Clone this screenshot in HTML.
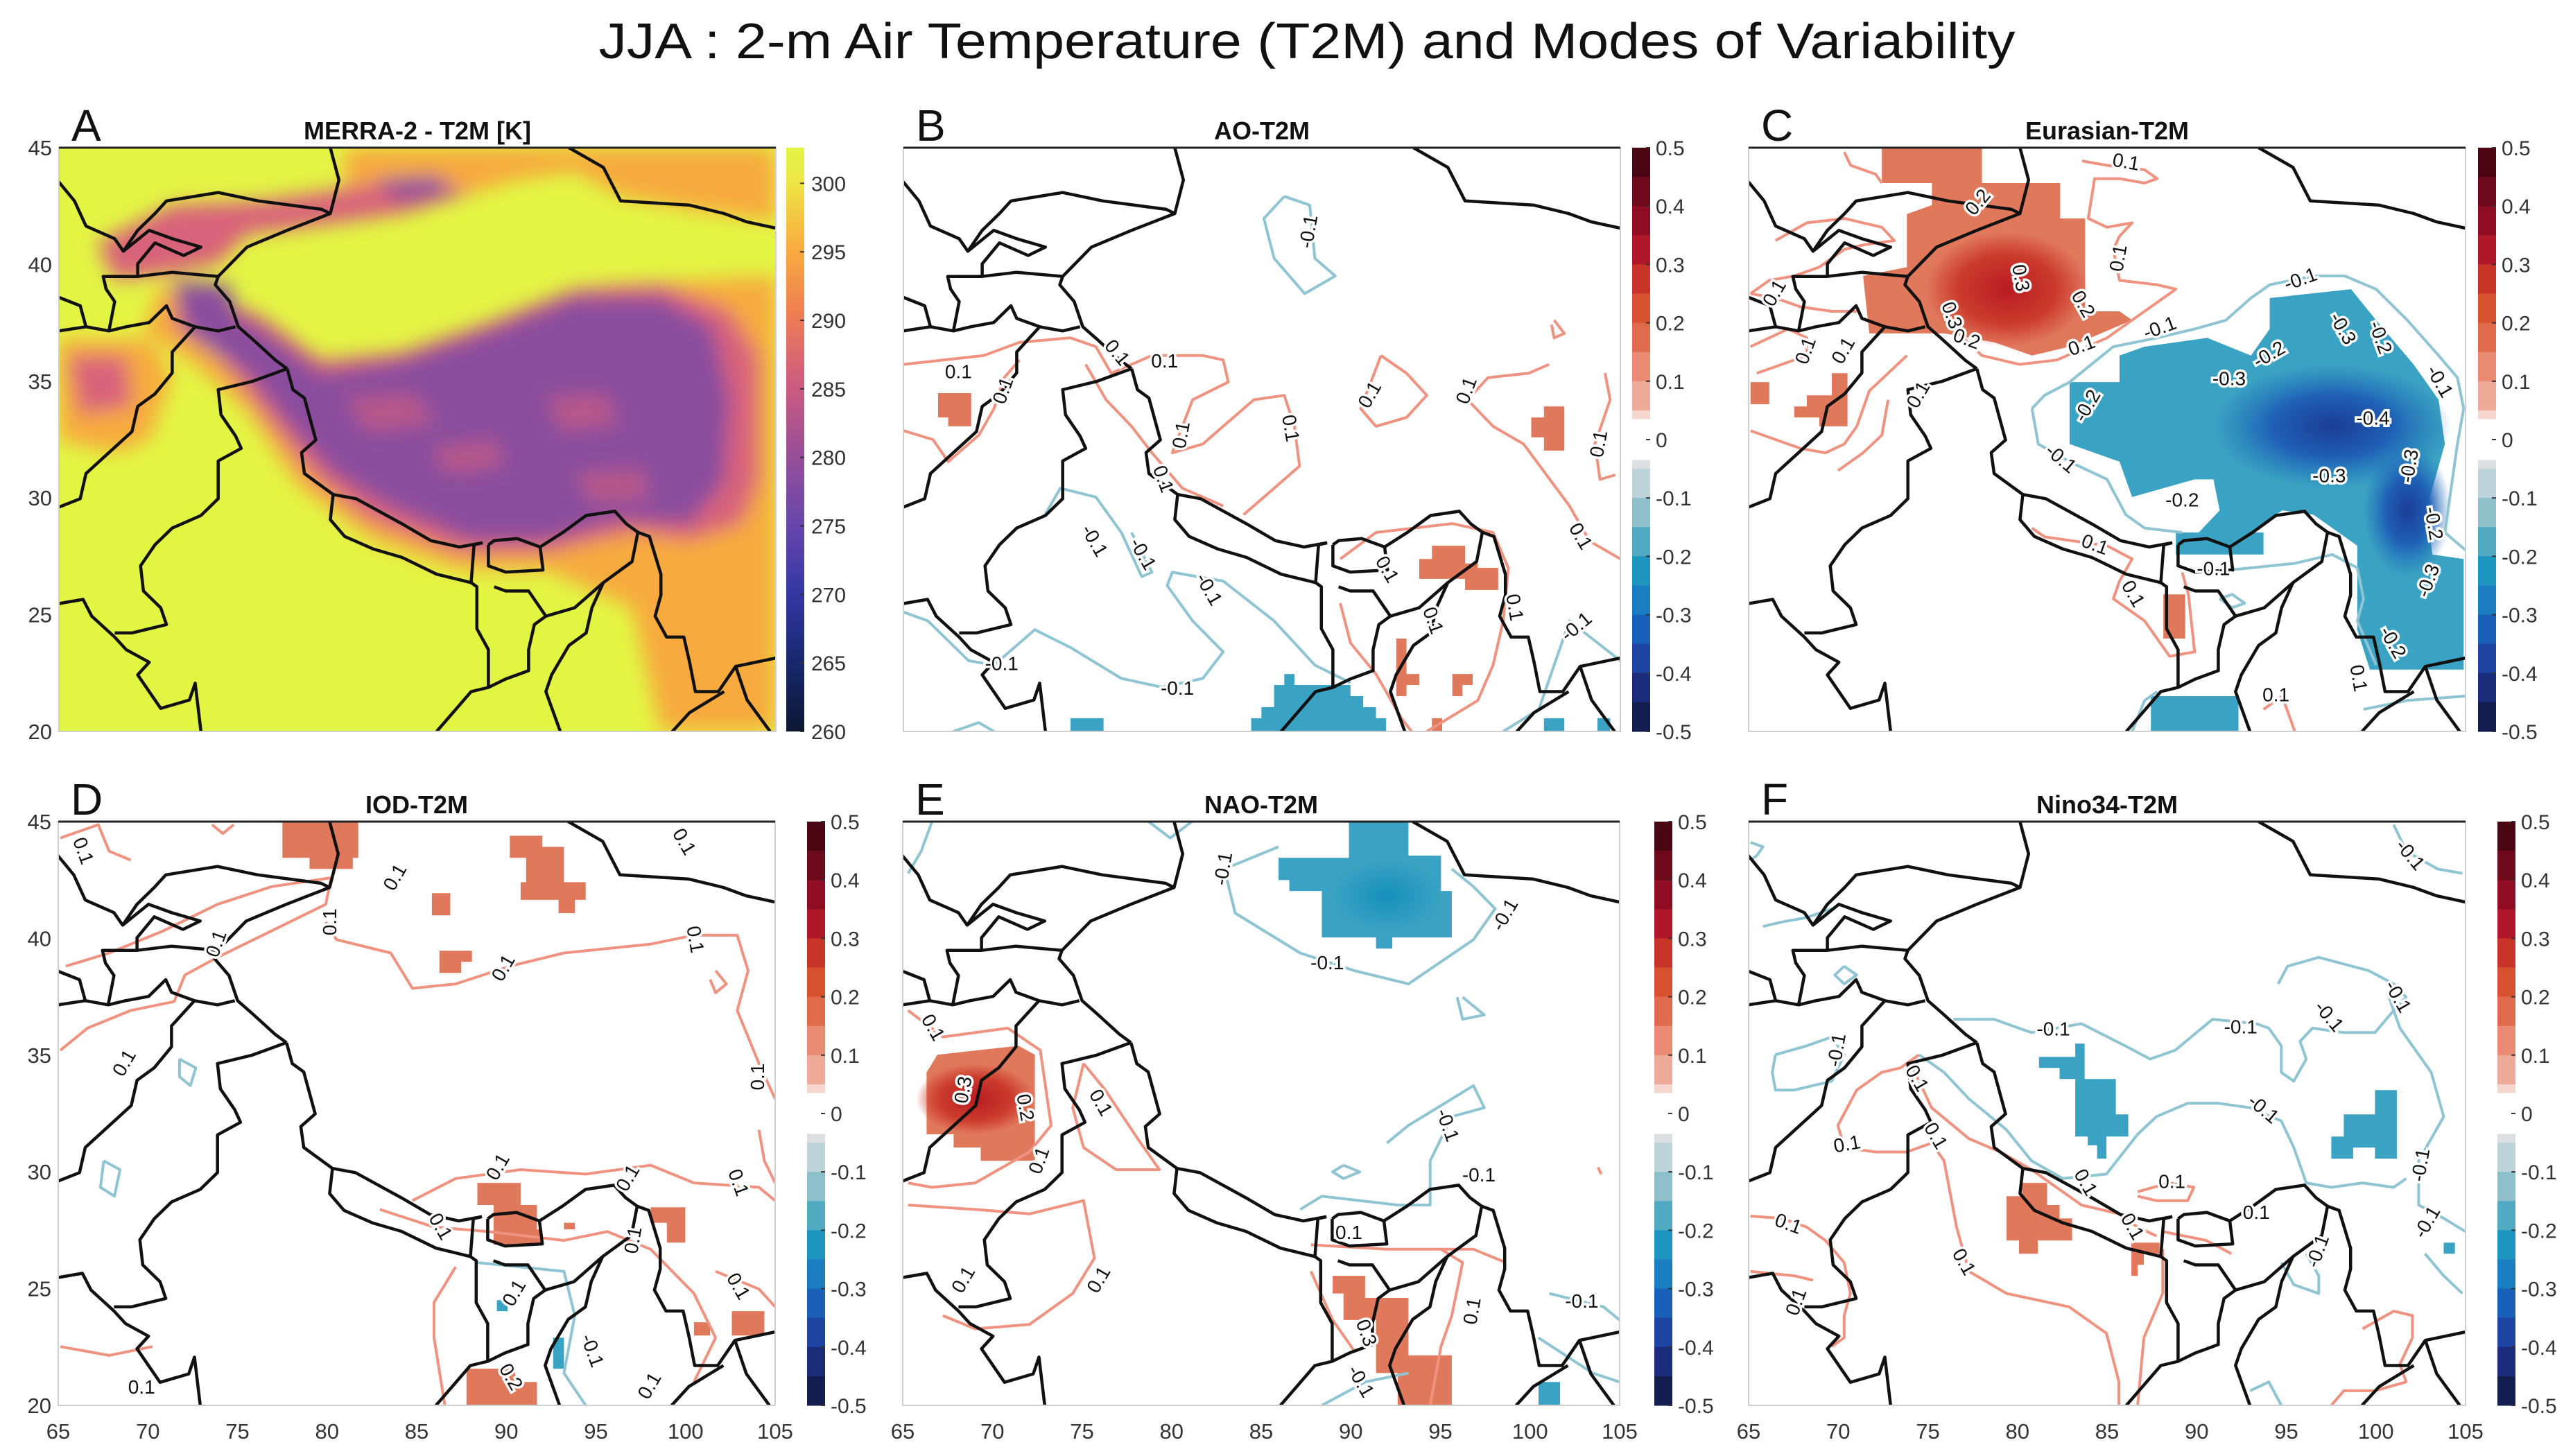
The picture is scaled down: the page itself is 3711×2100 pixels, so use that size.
<!DOCTYPE html>
<html><head><meta charset="utf-8"><title>JJA T2M and Modes of Variability</title>
<style>
html,body{margin:0;padding:0;background:#fff;}
#fig{display:block;width:3711px;height:2100px;font-family:"Liberation Sans",sans-serif;}
</style></head>
<body>
<svg id="fig" xmlns="http://www.w3.org/2000/svg" width="3711" height="2100" viewBox="0 0 3711 2100">
<defs>
<filter id="blurA" x="-20%" y="-20%" width="140%" height="140%"><feGaussianBlur stdDeviation="14"/></filter>
<linearGradient id="cbA" x1="0" y1="1" x2="0" y2="0">
<stop offset="0" stop-color="#0b1733"/><stop offset="0.12" stop-color="#17286e"/><stop offset="0.24" stop-color="#3438a6"/>
<stop offset="0.36" stop-color="#6a47aa"/><stop offset="0.48" stop-color="#9a4f98"/><stop offset="0.6" stop-color="#cf5c7d"/>
<stop offset="0.72" stop-color="#ef7f52"/><stop offset="0.83" stop-color="#f8ad3e"/><stop offset="0.94" stop-color="#eee445"/><stop offset="1" stop-color="#e2f545"/>
</linearGradient>
<radialGradient id="redCore"><stop offset="0" stop-color="#b81c22"/><stop offset="0.6" stop-color="#cc3a2c"/><stop offset="1" stop-color="#cc3a2c" stop-opacity="0"/></radialGradient>
<radialGradient id="blueCore"><stop offset="0" stop-color="#1c3d94"/><stop offset="0.5" stop-color="#1f5fb6"/><stop offset="1" stop-color="#1f6fbb" stop-opacity="0"/></radialGradient>
<radialGradient id="tealCore"><stop offset="0" stop-color="#1590bd"/><stop offset="1" stop-color="#1590bd" stop-opacity="0"/></radialGradient>
</defs>
<text x="1885" y="84" text-anchor="middle" font-size="72" fill="#111" textLength="2043" lengthAdjust="spacingAndGlyphs">JJA : 2-m Air Temperature (T2M) and Modes of Variability</text>
</svg>
<script>
// ---------- data: colorbar ticks ----------
const divTicks = [0.5,0.4,0.3,0.2,0.1,0,-0.1,-0.2,-0.3,-0.4,-0.5];
const divTickLabels = ['0.5','0.4','0.3','0.2','0.1','0','-0.1','-0.2','-0.3','-0.4','-0.5'];
const tempTicks = [300,295,290,285,280,275,270,265,260];
const tempRange = [260,302.6];
const lonTicks = [65,70,75,80,85,90,95,100,105];
const latTicks = [45,40,35,30,25,20];
const divBands = [[0.45,0.5,'#4a0612'],[0.4,0.45,'#6d0a1c'],[0.35,0.4,'#8e0d22'],[0.3,0.35,'#b0182a'],[0.25,0.3,'#c83528'],[0.2,0.25,'#d9522f'],[0.15,0.2,'#e06a4c'],[0.1,0.15,'#e88b72'],[0.05,0.1,'#eeaa98'],[0.035,0.05,'#f5d6cf'],[-0.035,0.035,'#ffffff'],[-0.05,-0.035,'#dcdfe2'],[-0.1,-0.05,'#bcd3da'],[-0.15,-0.1,'#8ec0cc'],[-0.2,-0.15,'#52aac2'],[-0.25,-0.2,'#1e95bf'],[-0.3,-0.25,'#1a7dc0'],[-0.35,-0.3,'#1a60b8'],[-0.4,-0.35,'#1d44a0'],[-0.45,-0.4,'#1b2d7a'],[-0.5,-0.45,'#131d4f']];

// ---------- geography traces (each in the pixel frame of its reference crop) ----------
const frameA = [103,1350,103,1495];
const borders = [
[[575,103],[590,180],[575,260],[560,250],[450,230],[380,210],[290,230],[270,260],[240,300],[215,350],[200,320],[150,290],[130,230],[100,180]],
[[575,260],[500,300],[430,340],[380,410],[375,430],[400,470],[415,530],[440,560],[480,610],[500,630]],
[[380,410],[300,400],[240,410],[180,410],[185,440],[200,470],[190,540]],
[[215,350],[260,300],[300,320],[350,340],[320,360],[270,330],[240,380],[240,410]],
[[103,540],[150,530],[190,540],[220,530],[260,520],[290,480],[300,510],[340,530],[380,540],[410,530]],
[[103,460],[140,480],[150,530]],
[[340,530],[300,590],[300,640],[270,690],[240,720],[230,780],[190,830],[150,880],[140,940],[103,960]],
[[500,630],[440,660],[380,680],[385,740],[410,790],[420,820],[380,850],[380,940],[350,980],[300,1010],[270,1050],[245,1100],[250,1160],[280,1200],[290,1240],[230,1260],[200,1260]],
[[103,1190],[145,1180],[160,1220],[200,1270],[220,1300],[260,1330],[240,1360],[280,1440],[330,1420],[340,1380],[350,1495]],
[[500,630],[510,680],[530,700],[550,800],[525,830],[530,880],[580,930],[620,940],[700,1000],[750,1040],[800,1055],[840,1045]],
[[580,930],[575,990],[600,1030],[650,1060],[700,1080],[760,1120],[820,1140],[825,1050],[840,1045]],
[[850,1050],[860,1040],[900,1035],[940,1055],[945,1110],[880,1115],[850,1100],[850,1050]],
[[940,1055],[980,1020],[1020,980],[1070,970],[1090,1000],[1110,1020],[1130,1030],[1150,1120],[1150,1170],[1140,1220],[1160,1270],[1190,1270],[1200,1330],[1210,1400],[1250,1400],[1280,1340],[1350,1320]],
[[1110,1020],[1100,1090],[1050,1140],[1030,1200],[1020,1260],[990,1290],[960,1360],[950,1400],[975,1495]],
[[820,1140],[830,1150],[830,1250],[850,1300],[850,1390],[880,1370],[920,1350],[920,1300],[930,1240],[950,1220],[920,1160],[880,1160],[860,1150]],
[[950,1220],[1000,1200],[1050,1140]],
[[1170,1495],[1200,1450],[1260,1400]],
[[1280,1340],[1300,1420],[1340,1495]],
[[990,103],[1050,150],[1080,230],[1200,240],[1260,260],[1300,280],[1350,295]],
[[760,1495],[820,1400],[850,1390]]
];
// Panel A temperature layers (traced in frame A)
const tOrange = [[[280,430],[420,500],[500,590],[600,630],[800,560],[950,480],[1050,430],[1200,420],[1350,410],[1350,1495],[1150,1495],[1100,1200],[950,1110],[800,1110],[650,1040],[520,910],[430,730],[330,610],[250,540]],
 [[600,103],[1350,103],[1350,280],[1200,250],[1080,220],[1000,160],[900,180],[800,220],[650,230],[600,200]],
 [[103,560],[260,560],[300,650],[260,800],[200,830],[103,800]]];
const tPink = [[[320,440],[450,500],[560,610],[700,590],[850,520],[1000,440],[1150,430],[1270,490],[1320,600],[1320,900],[1290,1000],[1200,1040],[1100,1020],[950,1070],[800,1070],[640,990],[540,880],[460,740],[380,600],[300,520]],
 [[170,330],[300,240],[450,230],[600,200],[750,170],[820,210],[700,260],[550,290],[430,310],[380,380],[300,400],[200,420]],
 [[120,600],[220,600],[230,720],[140,740]]];
const tPurple = [[[340,460],[450,530],[560,640],[700,610],[850,540],[1000,460],[1150,460],[1240,530],[1270,700],[1260,900],[1200,1000],[1080,990],[950,1040],[820,1040],[680,960],[580,880],[500,760],[430,640],[350,570]],
 [[300,420],[400,430],[420,560],[330,560]],
 [[650,180],[760,170],[790,210],[700,230]]];
const tPinkSpots = [[[600,700],[720,690],[760,760],[640,780]],[[750,820],[860,800],[880,860],[780,880]],[[950,700],[1050,690],[1080,760],[980,780]],[[1000,880],[1120,870],[1130,940],[1030,950]]];

// ---------- anomaly panels (traced in each crop's frame) ----------
const frameB=[72,1480,130,1450], frameC=[247,1393,130,1450], frameD=[53,715,133,1453], frameE=[833,1495,133,1453], frameF=[247,1395,133,1453];
const bRedBlocks=[[[140,685],[205,685],[205,760],[160,760],[160,740],[140,740]],[[1330,715],[1370,715],[1370,815],[1330,815],[1330,785],[1305,785],[1305,740],[1330,740]],[[1110,1030],[1175,1030],[1175,1070],[1200,1070],[1200,1080],[1240,1080],[1240,1130],[1175,1130],[1175,1105],[1085,1105],[1085,1060],[1110,1060]],[[1040,1240],[1060,1240],[1060,1320],[1085,1320],[1085,1345],[1060,1345],[1060,1370],[1040,1370]],[[1150,1320],[1190,1320],[1190,1345],[1170,1345],[1170,1370],[1150,1370],[1150,1395],[1130,1395],[1130,1420],[1130,1450],[1110,1450],[1110,1420],[1130,1420],[1130,1395],[1150,1395]]];
const bBlueBlocks=[[[820,1320],[840,1320],[840,1345],[950,1345],[950,1370],[975,1370],[975,1395],[1000,1395],[1000,1420],[1020,1420],[1020,1450],[755,1450],[755,1420],[775,1420],[775,1395],[800,1395],[800,1345],[820,1345]],[[400,1420],[465,1420],[465,1450],[400,1450]],[[1330,1420],[1370,1420],[1370,1450],[1330,1450]],[[1435,1420],[1460,1420],[1460,1450],[1435,1450]]];
const bRedLines=[[[72,620],[150,610],[230,600],[300,570],[400,560],[450,580],[480,640],[560,600],[660,600],[700,610],[710,660],[640,700],[620,760],[600,820],[660,800],[760,700],[820,690],[840,760],[850,850],[800,900],[740,960]],[[72,770],[130,790],[160,840],[220,780],[250,720],[270,650],[300,610]],[[1340,620],[1300,640],[1220,650],[1180,700],[1230,760],[1290,800],[1380,940],[1420,1020],[1480,1060]],[[1450,640],[1460,700],[1430,800],[1440,880],[1470,870]],[[1010,600],[1060,640],[1100,690],[1060,740],[1000,760],[970,720],[1010,600]],[[930,1060],[1000,1000],[1150,980],[1230,1000],[1260,1080],[1250,1200],[1230,1300],[1200,1380],[1100,1450]],[[930,1160],[950,1250],[1000,1320],[1050,1420],[1070,1450]],[[430,620],[470,700],[520,760],[560,820],[620,900],[700,940]],[[1350,520],[1370,550],[1350,560],[1345,530]]];
const bBlueLines=[[[820,240],[780,290],[800,380],[860,460],[920,420],[880,380],[870,260],[820,240]],[[72,1180],[120,1200],[200,1290],[250,1300],[330,1220],[400,1260],[500,1330],[580,1350],[660,1330],[700,1270],[640,1200],[590,1120],[600,1090],[700,1110],[800,1200],[880,1300],[950,1340]],[[350,960],[380,900],[450,920],[500,1000],[540,1100],[560,1090],[520,1000]],[[1250,1450],[1320,1400],[1350,1300],[1380,1200],[1480,1290]],[[170,1450],[220,1430],[250,1450]]];
const bLabels=[[180,640,'0.1',0],[270,680,'0.1',-70],[490,595,'0.1',50],[585,615,'0.1',0],[620,780,'0.1',-80],[830,765,'0.1',80],[990,690,'0.1',-60],[1180,680,'0.1',-70],[1440,800,'0.1',-80],[1400,1010,'0.1',60],[870,320,'-0.1',-80],[445,1020,'-0.1',60],[540,1050,'-0.1',60],[670,1130,'-0.1',60],[610,1355,'-0.1',0],[265,1300,'-0.1',0],[1395,1215,'-0.1',-40],[580,880,'0.1',70],[1270,1170,'0.1',80],[1110,1200,'0.1',70],[1020,1085,'0.1',60]];

const cRedBlocks=[[[460,130],[620,130],[620,210],[745,210],[745,290],[785,290],[785,500],[840,500],[860,520],[760,580],[700,600],[640,570],[560,550],[440,550],[430,420],[500,400],[500,280],[540,260],[540,210],[460,210]],[[250,660],[280,660],[280,710],[250,710]],[[380,640],[405,640],[405,760],[360,760],[360,740],[320,740],[320,715],[340,715],[340,690],[380,690]],[[910,1140],[945,1140],[945,1240],[910,1240]]];
const cBlueBlocks=[[[760,660],[840,660],[840,600],[880,580],[980,560],[1050,600],[1080,540],[1080,470],[1210,450],[1250,520],[1310,620],[1350,700],[1360,800],[1330,950],[1340,1050],[1390,1060],[1390,1310],[1240,1310],[1220,1220],[1220,1030],[1150,960],[1100,950],[1050,1000],[960,1010],[1000,950],[990,880],[960,880],[860,920],[840,840],[760,800]],[[930,1000],[1070,1000],[1070,1050],[930,1050]],[[890,1370],[1030,1370],[1030,1450],[890,1450]]];
const cCores=[['redCore',660,450,130,130],['blueCore',1180,760,190,140],['blueCore',1300,950,70,150]];
const cRedLines=[[[400,140],[410,170],[450,190],[460,210]],[[780,160],[820,170],[880,180],[900,200],[880,210],[840,200],[800,200],[790,290],[820,310],[860,300],[840,330],[830,360],[840,430],[900,440],[930,450],[880,500],[820,560],[740,610],[680,620],[620,600],[590,560]],[[290,340],[340,300],[400,290],[460,310],[480,340],[430,350],[400,360],[360,400],[320,420],[280,430],[250,460]],[[250,460],[290,470],[330,490],[380,500],[420,500]],[[250,580],[280,560],[310,540],[340,560],[340,600],[300,620],[260,640]],[[250,770],[290,790],[330,810],[370,820],[400,800],[420,760],[440,680],[470,640],[500,600]],[[390,860],[430,820],[460,780],[470,700]],[[700,990],[720,1010],[820,1030],[860,1060],[840,1110],[830,1150],[880,1200],[920,1280],[960,1270],[950,1140],[940,1090]],[[1070,1400],[1100,1370],[1120,1450]]];
const cBlueLines=[[[700,720],[720,690],[760,660],[830,580],[900,560],[960,540],[1010,520],[1050,470],[1080,440],[1150,420],[1200,420],[1250,450],[1300,520],[1350,600],[1380,650],[1390,720],[1380,800],[1370,900],[1360,1000],[1393,1040]],[[700,720],[710,800],[760,840],[820,880],[850,960],[880,990],[940,1000]],[[980,1090],[1050,1080],[1120,1070],[1180,1050],[1220,1080],[1230,1150],[1220,1200],[1250,1300]],[[860,1450],[880,1380],[900,1360]],[[1230,1400],[1300,1380],[1393,1370]],[[1000,1150],[1020,1140],[1040,1160],[1020,1170],[1000,1150]]];
const cLabels=[[850,165,'0.1',10],[615,255,'0.2',-50],[680,425,'0.3',80],[780,485,'0.2',60],[570,510,'0.3',70],[595,565,'0.2',20],[780,580,'0.1',-20],[905,540,'-0.1',-20],[1130,430,'-0.1',-20],[1080,600,'-0.2',-30],[1015,655,'-0.3',0],[790,715,'-0.2',-60],[1195,540,'-0.3',60],[1255,560,'-0.2',70],[1350,660,'-0.1',60],[1245,745,'-0.4',0],[1305,850,'-0.3',-80],[1175,875,'-0.3',0],[1340,980,'-0.2',80],[1335,1110,'-0.3',-70],[940,930,'-0.2',0],[745,835,'-0.1',40],[1275,1250,'-0.2',60],[840,380,'0.1',-80],[290,460,'0.1',-60],[340,590,'0.1',-70],[400,590,'0.1',-60],[520,690,'0.1',-60],[800,1030,'0.1',20],[1090,1370,'0.1',0],[1220,1330,'0.1',80],[860,1140,'0.1',60],[990,1085,'-0.1',0]];

const dRedBlocks=[[[260,133],[330,133],[330,215],[325,215],[325,240],[285,240],[285,215],[260,215]],[[470,165],[500,165],[500,190],[520,190],[520,270],[540,270],[540,310],[530,310],[530,340],[515,340],[515,310],[480,310],[480,270],[485,270],[485,215],[470,215]],[[398,295],[415,295],[415,345],[398,345]],[[405,425],[435,425],[435,450],[425,450],[425,475],[405,475]],[[440,950],[480,950],[480,1000],[495,1000],[495,1055],[500,1055],[500,1090],[455,1090],[455,1000],[440,1000]],[[600,1005],[632,1005],[632,1085],[615,1085],[615,1040],[600,1040]],[[675,1240],[705,1240],[705,1295],[675,1295]],[[640,1265],[655,1265],[655,1295],[640,1295]],[[430,1370],[475,1370],[475,1400],[495,1400],[495,1453],[430,1453]],[[520,1040],[530,1040],[530,1055],[520,1055]]];
const dBlueBlocks=[[[458,1215],[468,1215],[468,1240],[458,1240]],[[510,1300],[520,1300],[520,1370],[510,1370]]];
const dRedLines=[[[300,360],[310,400],[360,430],[380,510],[420,500],[470,460],[520,430],[600,410],[640,390],[680,390],[690,470],[680,560],[700,680],[715,760]],[[55,650],[80,600],[120,560],[160,540],[170,480],[200,440],[250,380],[300,320],[305,260],[250,280],[200,320],[150,380],[100,430],[60,460]],[[380,990],[420,940],[480,920],[540,930],[600,910],[640,950],[700,960],[715,990]],[[55,1320],[100,1340],[140,1320]],[[660,1150],[700,1190],[715,1230]],[[420,1140],[400,1220],[400,1300],[410,1453]],[[55,170],[90,140],[100,200],[120,220]],[[195,140],[205,160],[215,140]],[[660,470],[670,500],[660,520],[655,490]],[[700,830],[705,900],[715,950]],[[350,1010],[400,1050],[450,1060],[520,1080],[560,1060],[600,1100],[640,1200],[660,1300],[640,1400]]];
const dBlueLines=[[[165,670],[180,690],[175,730],[165,710],[165,670]],[[95,900],[110,920],[105,980],[92,960],[95,900]],[[440,1130],[520,1150],[530,1250],[520,1380],[540,1453]]];
const dLabels=[[75,200,'0.1',70],[365,260,'0.1',-60],[305,360,'0.1',-90],[200,410,'0.1',-70],[640,400,'0.1',80],[465,465,'0.1',-60],[630,180,'0.1',60],[115,680,'0.1',-60],[700,710,'0.1',-90],[460,915,'0.1',-60],[580,940,'0.1',-60],[680,950,'0.1',70],[405,1050,'0.1',60],[585,1080,'0.1',-80],[680,1185,'0.1',60],[470,1390,'0.2',60],[130,1415,'0.1',0],[600,1410,'0.1',-60],[545,1330,'-0.1',70],[475,1200,'0.1',-60]];

const eRedBlocks=[[[865,660],[940,640],[955,660],[955,900],[905,900],[905,870],[880,870],[880,840],[855,840],[855,700]],[[1230,1160],[1260,1160],[1260,1210],[1300,1210],[1300,1340],[1340,1340],[1340,1453],[1290,1453],[1290,1380],[1270,1380],[1270,1260],[1240,1260],[1240,1200],[1230,1200]]];
const eBlueBlocks=[[[1250,133],[1300,133],[1300,210],[1330,210],[1330,290],[1340,290],[1340,395],[1285,395],[1285,420],[1270,420],[1270,395],[1220,395],[1220,290],[1190,290],[1190,265],[1180,265],[1180,215],[1245,215],[1245,133]],[[1420,1400],[1440,1400],[1440,1453],[1420,1453]]];
const eCores=[['redCore',900,760,55,80],['tealCore',1280,300,50,80]];
const eRedLines=[[[838,560],[870,620],[930,600],[960,650],[970,820],[950,880],[900,950],[860,960],[838,950]],[[1000,680],[1020,740],[1050,850],[1070,920],[1030,920],[1000,870],[990,780],[1000,680]],[[838,1000],[900,1010],[950,1020],[1000,990],[1010,1120],[990,1200],[950,1270],[900,1280],[870,1250]],[[1210,1090],[1280,1100],[1330,1100],[1350,1130],[1340,1250],[1330,1320],[1320,1453]],[[1390,1130],[1360,1100],[1330,1100]],[[1475,915],[1478,930]],[[1210,1150],[1230,1260],[1250,1330]]];
const eBlueLines=[[[1180,190],[1130,240],[1140,340],[1200,430],[1250,470],[1300,500],[1330,450],[1360,400],[1380,330],[1360,280],[1340,240]],[[860,133],[850,200],[838,250]],[[1060,133],[1080,170],[1100,133]],[[1350,530],[1370,570],[1350,580],[1345,530]],[[1280,860],[1300,820],[1340,760],[1360,730],[1370,780],[1340,800],[1320,900],[1320,1000],[1290,1000],[1220,980],[1200,1010]],[[1430,1200],[1480,1230],[1495,1260]],[[1420,1300],[1470,1380],[1495,1400]],[[1220,1453],[1260,1400],[1300,1380]],[[1240,910],[1255,925],[1240,940],[1230,925],[1240,910]]];
const eLabels=[[860,600,'0.1',60],[890,740,'0.3',-80],[945,780,'0.2',80],[960,900,'0.1',-70],[1015,770,'0.1',60],[1225,455,'-0.1',0],[1390,345,'-0.1',-60],[1130,240,'-0.1',-80],[1335,820,'-0.1',70],[1365,935,'-0.1',0],[1460,1220,'-0.1',0],[890,1170,'0.1',-60],[1015,1170,'0.1',-60],[1245,1065,'0.1',0],[1255,1400,'-0.1',60],[1260,1290,'0.3',70],[1360,1240,'0.1',-80]];

const fRedBlocks=[[[660,980],[685,980],[685,950],[725,950],[725,1000],[745,1000],[745,1030],[765,1030],[765,1080],[710,1080],[710,1110],[680,1110],[680,1080],[660,1080]],[[860,1085],[905,1085],[905,1110],[880,1110],[880,1135],[870,1135],[870,1160],[860,1160]]];
const fBlueBlocks=[[[712,665],[770,665],[770,635],[785,635],[785,715],[835,715],[835,795],[855,795],[855,845],[820,845],[820,895],[805,895],[805,865],[790,865],[790,845],[770,845],[770,715],[745,715],[745,690],[712,690]],[[1250,740],[1285,740],[1285,895],[1250,895],[1250,870],[1215,870],[1215,895],[1180,895],[1180,845],[1200,845],[1200,795],[1250,795]],[[1360,1085],[1378,1085],[1378,1110],[1360,1110]]];
const fBlueLines=[[[575,580],[640,580],[700,610],[780,590],[850,640],[890,670],[930,650],[990,580],[1060,590],[1080,600],[1100,640],[1100,700],[1120,720],[1140,670],[1130,630],[1150,600],[1200,610],[1250,610],[1280,560],[1300,530],[1280,500],[1240,470],[1160,440],[1110,460],[1095,500]],[[1270,520],[1290,600],[1340,700],[1360,800],[1320,900],[1320,1000],[1360,1030],[1395,1060]],[[520,660],[560,700],[600,760],[660,830],[700,900],[750,940],[820,930],[870,840],[900,800],[950,770],[1000,770],[1050,780],[1100,810],[1120,870],[1140,950],[1180,960],[1230,950],[1280,960],[1300,940]],[[250,180],[270,190],[260,210],[250,220]],[[270,370],[300,360],[340,350],[380,330]],[[400,460],[420,480],[400,500],[385,480],[400,460]],[[290,660],[340,640],[380,620],[400,660],[380,720],[320,740],[290,740],[285,700],[290,660]],[[1280,140],[1300,200],[1350,240],[1390,250]],[[1330,1110],[1360,1160],[1390,1200]],[[1100,1130],[1120,1180],[1160,1200],[1160,1160],[1140,1110]],[[1050,1420],[1080,1400],[1100,1453]]];
const fRedLines=[[[520,660],[490,690],[460,700],[420,740],[390,820],[400,870],[450,880],[500,880],[540,860],[560,900],[580,1050],[600,1150],[660,1200],[760,1230],[820,1290],[840,1400],[840,1453]],[[510,690],[540,780],[600,850],[650,880],[700,920],[740,960],[780,1000],[840,1020],[870,1050],[900,1070]],[[250,1025],[300,1030],[340,1050],[370,1080],[400,1130],[410,1200],[400,1250],[400,1300],[380,1320]],[[870,970],[920,950],[960,960],[950,990],[900,990],[870,980]],[[910,1100],[910,1200],[880,1300],[870,1453]],[[250,1150],[320,1160],[350,1170]],[[1230,1280],[1280,1240],[1310,1250],[1310,1300],[1290,1360],[1300,1400],[1250,1420],[1200,1420],[1180,1453]],[[910,1060],[980,1080],[1020,1110]]];
const fLabels=[[735,605,'-0.1',0],[1035,600,'-0.1',0],[1175,575,'-0.1',50],[1285,530,'-0.1',60],[1305,210,'-0.1',50],[390,650,'-0.1',-80],[1070,785,'-0.1',40],[1325,910,'-0.1',-80],[1335,1040,'-0.1',-60],[1160,1105,'-0.1',-70],[405,865,'0.1',-10],[545,845,'0.1',60],[515,715,'0.1',60],[785,950,'0.1',60],[925,950,'0.1',0],[310,1045,'0.1',20],[590,1130,'0.1',60],[860,1050,'0.1',60],[1060,1020,'0.1',0],[325,1220,'0.1',-70]];

// ---------- panel layout ----------
const panels=[
 {id:'a',letter:'A',title:'MERRA-2 - T2M [K]',L:85,T:213,cb:1134,type:'temp',ylab:true,xlab:false},
 {id:'b',letter:'B',title:'AO-T2M',L:1303,T:213,cb:2354,frame:frameB,rb:bRedBlocks,bb:bBlueBlocks,rl:bRedLines,bl:bBlueLines,lab:bLabels,cores:[],ylab:false,xlab:false},
 {id:'c',letter:'C',title:'Eurasian-T2M',L:2522,T:213,cb:3574,frame:frameC,rb:cRedBlocks,bb:cBlueBlocks,rl:cRedLines,bl:cBlueLines,lab:cLabels,cores:cCores,ylab:false,xlab:false},
 {id:'d',letter:'D',title:'IOD-T2M',L:84,T:1185,cb:1164,frame:frameD,rb:dRedBlocks,bb:dBlueBlocks,rl:dRedLines,bl:dBlueLines,lab:dLabels,cores:[],ylab:true,xlab:true},
 {id:'e',letter:'E',title:'NAO-T2M',L:1302,T:1185,cb:2386,frame:frameE,rb:eRedBlocks,bb:eBlueBlocks,rl:eRedLines,bl:eBlueLines,lab:eLabels,cores:eCores,ylab:false,xlab:true},
 {id:'f',letter:'F',title:'Nino34-T2M',L:2522,T:1185,cb:3602,frame:frameF,rb:fRedBlocks,bb:fBlueBlocks,rl:fRedLines,bl:fBlueLines,lab:fLabels,cores:[],ylab:false,xlab:true}
];
const PW=1034, PH=842, CBW=26;

const NS='http://www.w3.org/2000/svg';
const svg=document.getElementById('fig');
const defs=svg.querySelector('defs');
function mk(tag,attrs,parent){const e=document.createElementNS(NS,tag);for(const k in attrs)e.setAttribute(k,attrs[k]);(parent||svg).appendChild(e);return e;}
function toLL(fr,p){return [65+(p[0]-fr[0])/(fr[1]-fr[0])*40, 45-(p[1]-fr[2])/(fr[3]-fr[2])*25];}
function xs(P,lon){return P.L+(lon-65)/40*PW;}
function ys(P,lat){return P.T+(45-lat)/25*PH;}
function pathOf(P,fr,pts,close){let d='';pts.forEach((p,i)=>{const ll=toLL(fr,p);d+=(i?'L':'M')+xs(P,ll[0]).toFixed(1)+' '+ys(P,ll[1]).toFixed(1);});return d+(close?'Z':'');}

panels.forEach(P=>{
  const cp=mk('clipPath',{id:'clip-'+P.id},defs);
  mk('rect',{x:P.L,y:P.T,width:PW,height:PH},cp);
  const g=mk('g',{'clip-path':'url(#clip-'+P.id+')'});
  
  
  if(P.type==='temp'){
    const bg=mk('rect',{x:P.L,y:P.T,width:PW,height:PH,fill:'#e3f543'},g);
    
    
    const lay=mk('g',{filter:'url(#blurA)'},g);
    
    
    tOrange.forEach(poly=>{const e=mk('path',{d:pathOf(P,frameA,poly,true),fill:'#f7aa3e'},lay);
      
      });
    tPink.forEach(poly=>{const e=mk('path',{d:pathOf(P,frameA,poly,true),fill:'#d8627a'},lay);
      
      });
    tPurple.forEach(poly=>{const e=mk('path',{d:pathOf(P,frameA,poly,true),fill:'#8a4d9e'},lay);
      
      });
    tPinkSpots.forEach(poly=>{const e=mk('path',{d:pathOf(P,frameA,poly,true),fill:'#b9588a'},lay);
      
      });
  } else {
    const bg=mk('rect',{x:P.L,y:P.T,width:PW,height:PH,fill:'#ffffff'},g);
    
    
    P.rb.forEach(poly=>{const e=mk('path',{d:pathOf(P,P.frame,poly,true),fill:'#e0785c'},g);
      
      });
    P.bb.forEach(poly=>{const e=mk('path',{d:pathOf(P,P.frame,poly,true),fill:'#3aa2c2'},g);
      
      });
    P.cores.forEach(c=>{const ll=toLL(P.frame,[c[1],c[2]]);
      const rx=c[3]/(P.frame[1]-P.frame[0])*PW, ry=c[4]/(P.frame[3]-P.frame[2])*PH;
      const e=mk('ellipse',{cx:xs(P,ll[0]),cy:ys(P,ll[1]),rx:rx,ry:ry,fill:'url(#'+c[0]+')'},g);
      
      });
    P.rl.forEach(l=>{const e=mk('path',{d:pathOf(P,P.frame,l,false),fill:'none',stroke:'#ef9280','stroke-width':4,'stroke-linejoin':'round'},g);
      
      });
    P.bl.forEach(l=>{const e=mk('path',{d:pathOf(P,P.frame,l,false),fill:'none',stroke:'#8fc4d2','stroke-width':4,'stroke-linejoin':'round'},g);
      
      });
  }
  borders.forEach(b=>{const e=mk('path',{d:pathOf(P,frameA,b,false),fill:'none',stroke:'#111','stroke-width':4.5,'stroke-linejoin':'round'},g);
    
    });
  if(P.lab){P.lab.forEach(t=>{const ll=toLL(P.frame,[t[0],t[1]]);const x=xs(P,ll[0]),y=ys(P,ll[1]);
    const e=mk('text',{x:x,y:y,'text-anchor':'middle','dominant-baseline':'middle','font-size':28,fill:'#111',stroke:'#fff','stroke-width':7,'paint-order':'stroke',transform:'rotate('+t[3]+' '+x+' '+y+')'},g);
    e.textContent=t[2];
    
    });}
  const fr=mk('rect',{x:P.L,y:P.T,width:PW,height:PH,fill:'none',stroke:'#cfcfcf','stroke-width':2});
  
  
  const top=mk('line',{x1:P.L,y1:P.T,x2:P.L+PW,y2:P.T,stroke:'#222','stroke-width':3});
  
  
  const lt=mk('text',{x:P.L+18,y:P.T-10,'font-size':64,fill:'#111'});
  lt.textContent=P.letter;
  
  
  const ti=mk('text',{x:P.L+PW/2,y:P.T-12,'text-anchor':'middle','font-size':36,'font-weight':'bold',fill:'#111'});
  ti.textContent=P.title;
  
  
  if(P.ylab){latTicks.forEach(v=>{const t=mk('text',{x:P.L-10,y:ys(P,v)+11,'text-anchor':'end','font-size':31,fill:'#333'});
    t.textContent=String(v);
    
    });}
  if(P.xlab){lonTicks.forEach(v=>{const t=mk('text',{x:xs(P,v),y:P.T+PH+48,'text-anchor':'middle','font-size':31,fill:'#333'});
    t.textContent=String(v);
    
    });}
  const cbg=mk('g',{});
  
  
  if(P.type==='temp'){
    const r=mk('rect',{x:P.cb,y:P.T,width:CBW,height:PH,fill:'url(#cbA)'},cbg);
    
    
    tempTicks.forEach(v=>{const y=P.T+(tempRange[1]-v)/(tempRange[1]-tempRange[0])*PH;
      const tk=mk('line',{x1:P.cb+CBW-6,y1:y,x2:P.cb+CBW,y2:y,stroke:'#333','stroke-width':2},cbg);
      
      
      const t=mk('text',{x:P.cb+CBW+10,y:y+11,'font-size':30,fill:'#333'},cbg);
      t.textContent=String(v);
      
      });
  } else {
    divBands.forEach(b=>{const y1=P.T+(0.5-b[1])*PH, y2=P.T+(0.5-b[0])*PH;
      const r=mk('rect',{x:P.cb,y:y1,width:CBW,height:y2-y1+0.5,fill:b[2]},cbg);
      
      });
    divTicks.forEach((v,i)=>{const y=P.T+(0.5-v)*PH;
      const tk=mk('line',{x1:P.cb+CBW-6,y1:y,x2:P.cb+CBW,y2:y,stroke:'#333','stroke-width':2},cbg);
      
      
      const t=mk('text',{x:P.cb+CBW+8,y:y+11,'font-size':30,fill:'#333'},cbg);
      t.textContent=divTickLabels[i];
      
      });
  }
});
</script>
</body></html>
